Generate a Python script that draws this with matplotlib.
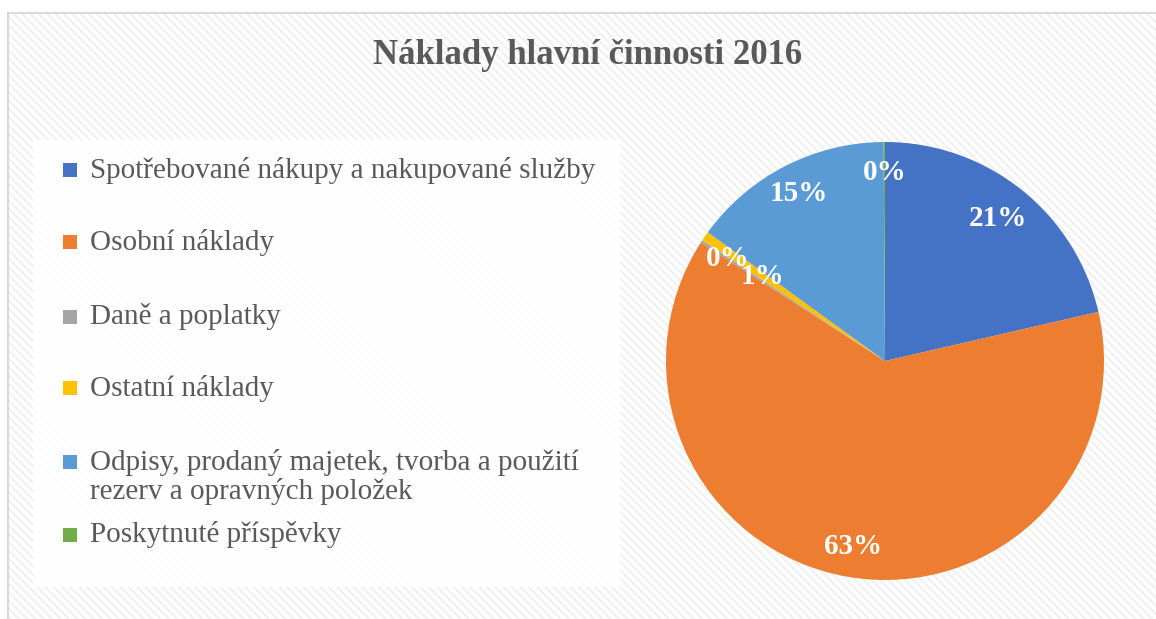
import numpy as np
import matplotlib.pyplot as plt
from matplotlib.patches import Rectangle

# data (percent of total)
categories = ["Spotřebované nákupy a nakupované služby",
              "Osobní náklady",
              "Daně a poplatky",
              "Ostatní náklady",
              "Odpisy, prodaný majetek, tvorba a použití\nrezerv a opravných položek",
              "Poskytnuté příspěvky"]
shares = [21.4, 62.7, 0.2, 0.7, 14.9, 0.1]
colours = ["#4472C4", "#ED7D31", "#A5A5A5", "#FFC000", "#5B9BD5", "#70AD47"]
title = "Náklady hlavní činnosti 2016"

W, H = 1156, 619
plt.rcParams['font.family'] = ['Liberation Serif', 'DejaVu Serif']
plt.rcParams['hatch.linewidth'] = 1.6
textColour = "#595959"

fig = plt.figure(figsize=(W/100, H/100), dpi=100)

#helper to turn pixel boxes into figure fractions
def pxRect(x0, y0, x1, y1, **kw):
    return Rectangle((x0/W, 1-y1/H), (x1-x0)/W, (y1-y0)/H, transform=fig.transFigure, **kw)

#hatched chart area background and its border
fig.add_artist(pxRect(8, 13, W+20, H+20, facecolor="white", edgecolor="#f1f1f1", hatch="\\\\\\\\", linewidth=0, zorder=-5))
fig.add_artist(pxRect(8, 13, W+20, H+20, facecolor="none", edgecolor="#d9d9d9", linewidth=1.5, zorder=-4))
#white legend panel
fig.add_artist(pxRect(33, 140, 620, 587, facecolor="white", edgecolor="none", alpha=0.9, zorder=-3))

fig.text(588/W, 1-55/H, title, ha="center", va="center", fontsize=25, fontweight="bold", color=textColour)

#pie placed by pixel centre and radius
cx, cy, r = 885, 361, 219
ax = fig.add_axes([(cx-r)/W, 1-(cy+r)/H, 2*r/W, 2*r/H])
wedges, _ = ax.pie(shares, colors=colours, startangle=90, counterclock=False, radius=1,
                   wedgeprops=dict(linewidth=0))
ax.set_xlim(-1, 1)
ax.set_ylim(-1, 1)
ax.patch.set_visible(False)

#data labels, radial distance chosen per slice like Excel placed them
labelDist = [0.83, 0.86, 0.86, 0.68, 0.86, 0.86]
for w, share, d in zip(wedges, shares, labelDist):
    theta = np.deg2rad((w.theta1 + w.theta2)/2)
    ax.text(d*np.cos(theta), d*np.sin(theta), f"{share:.0f}%", ha="center", va="center",
            fontsize=21, fontweight="bold", color="white")

#legend drawn by hand to keep Excel spacing
legendY = [170, 242, 317, 388, 477, 535]
for name, col, y in zip(categories, colours, legendY):
    markY = y if "\n" not in name else y - 15
    fig.add_artist(pxRect(63, markY-7, 77, markY+7, facecolor=col, edgecolor="none", zorder=2))
    fig.text(90/W, 1-y/H, name, ha="left", va="center", fontsize=21, color=textColour, linespacing=1.05)

fig.savefig("out.png", dpi=100)
